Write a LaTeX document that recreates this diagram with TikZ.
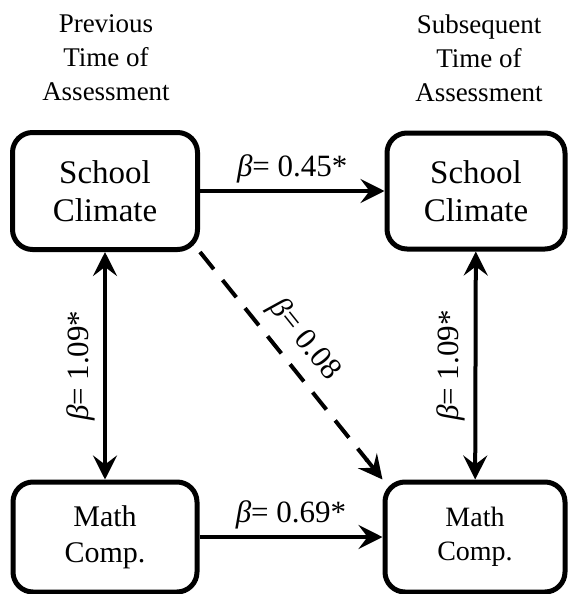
\documentclass[tikz,border=0pt]{standalone}
\usepackage{fontspec}
\setmainfont{Liberation Serif}
\usetikzlibrary{arrows.meta,calc}
\tikzset{
  stagebox/.style={draw, line width=5pt, rounded corners=20pt, align=center, inner sep=0pt},
  path/.style={line width=4pt, -{Stealth[length=24pt,width=24pt,inset=9pt]}},
  twoway/.style={line width=4pt, {Stealth[length=24pt,width=24pt,inset=9pt]}-{Stealth[length=24pt,width=24pt,inset=9pt]}},
  coef/.style={font=\fontsize{31}{34}\selectfont, inner sep=2pt},
  head/.style={align=center, font=\fontsize{27}{34}\selectfont}
}
\begin{document}
\begin{tikzpicture}[x=1pt, y=-1pt]
\useasboundingbox (0,0) rectangle (568,594);

% time headers
\node[head] (prevhead) at (106,58) {Previous\\Time of\\Assessment};
\node[head] (subhead) at (479,58) {Subsequent\\Time of\\Assessment};

% boxes
\node[stagebox, minimum width=185pt, minimum height=117pt, font=\fontsize{33}{38}\selectfont] (sc1) at (105,191) {School\\Climate};
\node[stagebox, minimum width=178pt, minimum height=116pt, font=\fontsize{33}{38}\selectfont] (sc2) at (476,191) {School\\Climate};
\node[stagebox, minimum width=184pt, minimum height=110pt, font=\fontsize{30}{36}\selectfont] (mc1) at (105,537) {Math\\Comp.};
\node[stagebox, minimum width=180pt, minimum height=110pt, font=\fontsize{28}{34}\selectfont] (mc2) at (475,537) {Math\\Comp.};

% paths
\draw[path] (sc1) -- node[coef, above=4pt] (b1) {\textit{β}= 0.45*} (sc2);
\draw[path] (mc1) -- node[coef, above=4pt] (b2) {\textit{β}= 0.69*} (mc2);
\draw[twoway] (mc1) -- node[coef, sloped, above=6pt] (b3) {\textit{β}= 1.09*} (sc1);
\draw[twoway] (mc2) -- node[coef, sloped, above=6pt] (b4) {\textit{β}= 1.09*} (sc2);
% dashed path, tip drawn solid
\coordinate (tipbase) at ($(mc2.north west)!24pt!(sc1.south east)$);
\draw[line width=4pt, dash pattern=on 22pt off 14pt] (sc1.south east) -- node[coef, sloped, above=8pt, pos=0.5] (b5) {\textit{β}= 0.08} (tipbase);
\draw[path] ($(tipbase)!2pt!(sc1.south east)$) -- (mc2.north west);

\end{tikzpicture}
\end{document}
